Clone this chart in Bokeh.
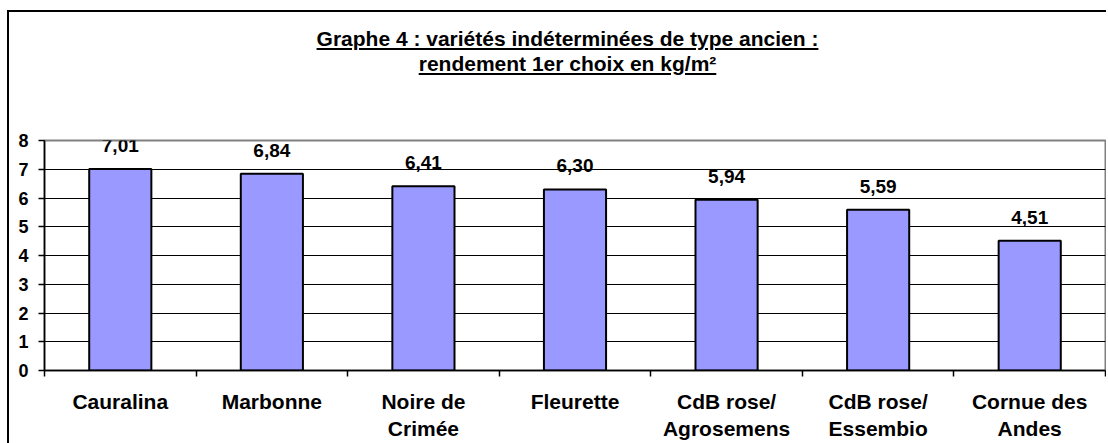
from bokeh.plotting import figure
from bokeh.models import ColumnDataSource, Range1d, FixedTicker, LabelSet, Div
from bokeh.layouts import column
from bokeh.core.properties import value
from bokeh.embed import file_html
from bokeh.resources import INLINE

categories = ["Cauralina", "Marbonne", "Noire de\nCrimée", "Fleurette",
              "CdB rose/\nAgrosemens", "CdB rose/\nEssembio", "Cornue des\nAndes"]
rendement = [7.01, 6.84, 6.41, 6.30, 5.94, 5.59, 4.51]
y_ticks = [0, 1, 2, 3, 4, 5, 6, 7, 8]
title_lines = ["Graphe 4 : variétés indéterminées de type ancien :",
               "rendement 1er choix en kg/m²"]

FONT = "Liberation Sans"
n = len(categories)
centers = [i + 0.5 for i in range(n)]
bounds = list(range(n + 1))
labels = [f"{v:.2f}".replace(".", ",") for v in rendement]

src = ColumnDataSource(dict(x=centers, top=rendement, label=labels))

p = figure(width=1097, height=333, x_range=Range1d(0, n), y_range=Range1d(y_ticks[0], y_ticks[-1]),
           output_backend="svg", toolbar_location=None, title=None, margin=0,
           min_border_left=35, min_border_right=1, min_border_top=30, min_border_bottom=71)
p.background_fill_color = "white"
p.border_fill_color = "white"

p.vbar(x="x", top="top", bottom=0, width=0.41, source=src,
       fill_color="#9999FF", line_color="black", line_width=2)

p.add_layout(LabelSet(x="x", y="top", text="label", source=src, y_offset=17,
                      text_align="center", text_baseline="alphabetic",
                      text_font=value(FONT), text_font_style="bold", text_font_size="19px",
                      text_color="black"))

# x axis
xa = p.xaxis[0]
xa.ticker = FixedTicker(ticks=centers, minor_ticks=bounds)
xa.major_label_overrides = {c: lab for c, lab in zip(centers, categories)}
xa.major_tick_out = 0
xa.major_tick_in = 0
xa.minor_tick_out = 6
xa.minor_tick_in = 0
xa.minor_tick_line_color = "black"
xa.minor_tick_line_width = 1.5
xa.axis_line_color = "black"
xa.axis_line_width = 1.5
xa.major_label_standoff = 13
xa.major_label_text_font = FONT
xa.major_label_text_font_style = "bold"
xa.major_label_text_font_size = "21px"
xa.major_label_text_color = "black"
xa.major_label_text_line_height = 1.2

# y axis
ya = p.yaxis[0]
ya.ticker = FixedTicker(ticks=y_ticks)
ya.minor_tick_line_color = None
ya.major_tick_out = 6
ya.major_tick_in = 0
ya.major_tick_line_color = "black"
ya.major_tick_line_width = 1.5
ya.axis_line_color = "black"
ya.axis_line_width = 1.5
ya.major_label_standoff = 10
ya.major_label_text_font = FONT
ya.major_label_text_font_style = "bold"
ya.major_label_text_font_size = "18px"
ya.major_label_text_color = "black"

p.xgrid.visible = False
p.ygrid[0].ticker = FixedTicker(ticks=y_ticks[1:-1])
p.ygrid.grid_line_color = "black"
p.ygrid.grid_line_width = 1

p.outline_line_color = "#808080"
p.outline_line_width = 2

title_html = "<br>".join(title_lines)
div = Div(text=(
    '<div style="display:block; box-sizing:border-box; width:1097px; padding-left:20px; '
    'padding-top:14px; text-align:center; '
    "font-family:'Liberation Sans', Arial, sans-serif; font-weight:bold; "
    'font-size:21px; line-height:25px; text-decoration:underline; color:black;">'
    f"{title_html}</div>"), width=1097, height=98, margin=0)

layout = column(div, p, margin=0, styles={"border-left": "2px solid black",
                                          "border-top": "2px solid black",
                                          "margin-left": "7px",
                                          "margin-top": "10px",
                                          "background-color": "white"})

with open("out.html", "w", encoding="utf-8") as f:
    f.write(file_html(layout, INLINE))
